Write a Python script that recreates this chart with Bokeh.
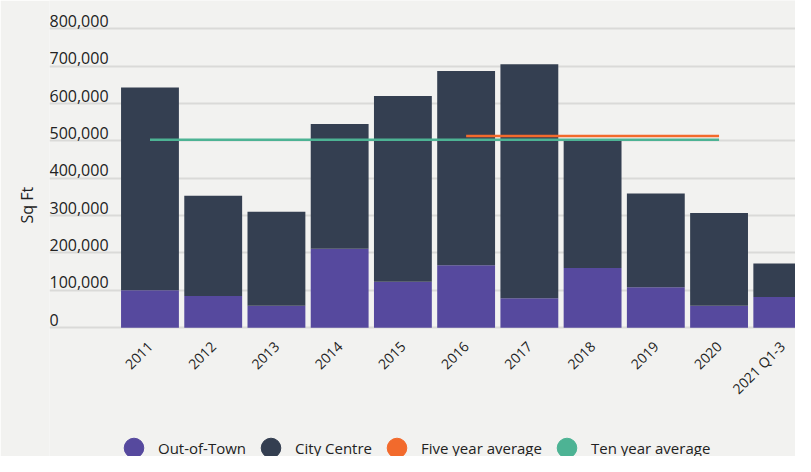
import numpy as np
from bokeh.plotting import figure
from bokeh.models import ColumnDataSource, FixedTicker, Range1d, Legend, LegendItem, Title
from bokeh.core.properties import value
from bokeh.embed import file_html
from bokeh.resources import INLINE

# ---- data ----
categories = ["2011", "2012", "2013", "2014", "2015", "2016", "2017", "2018", "2019", "2020", "2021 Q1-3"]
out_of_town = [100000, 85000, 59000, 211000, 123000, 167000, 79000, 160000, 108000, 59000, 82000]
city_centre = [543000, 268000, 251000, 334000, 497000, 520000, 626000, 342000, 251000, 248000, 90000]
ten_year_years = ["2011", "2012", "2013", "2014", "2015", "2016", "2017", "2018", "2019", "2020"]
ten_year_avg = [503000, 503000, 503000, 503000, 503000, 503000, 503000, 503000, 503000, 503000]
five_year_years = ["2016", "2017", "2018", "2019", "2020"]
five_year_avg = [513000, 513000, 513000, 513000, 513000]
y_ticks = [0, 100000, 200000, 300000, 400000, 500000, 600000, 700000, 800000]
y_tick_labels = ["0", "100,000", "200,000", "300,000", "400,000", "500,000", "600,000", "700,000", "800,000"]
series_names = ["Out-of-Town", "City Centre", "Five year average", "Ten year average"]
y_title = "Sq Ft"

# ---- styles ----
PURPLE = "#56499E"
NAVY = "#343F51"
ORANGE = "#F26A2C"
GREEN = "#4DB394"
BG = "#F2F2F0"
GRID = "#DADAD8"
TXT = "#222222"
FONT = "Open Sans"

xpos = list(range(len(categories)))
idx = {c: i for i, c in enumerate(categories)}

x_start, x_end = -1.589, 10.209
p = figure(width=795, height=456, output_backend="svg", toolbar_location=None,
           x_range=Range1d(x_start, x_end), y_range=Range1d(-344800, 875700),
           min_border_left=49, min_border_right=0, min_border_top=0, min_border_bottom=0,
           background_fill_color=BG, border_fill_color=BG, outline_line_color=None)

src = ColumnDataSource(dict(x=xpos, out=out_of_town, city=city_centre))
p.vbar_stack(["out", "city"], x="x", width=0.915, source=src,
             color=[PURPLE, NAVY], line_color=None)

p.line(x=[idx[c] for c in ten_year_years], y=ten_year_avg, line_color=GREEN, line_width=2.5)
p.line(x=[idx[c] for c in five_year_years], y=five_year_avg, line_color=ORANGE, line_width=2.5)

# y tick labels sit above their gridlines, left-aligned at the frame's left edge
p.text(x=[x_start] * len(y_ticks), y=y_ticks, text=y_tick_labels,
       text_font=value(FONT), text_font_size="16px", text_color=TXT,
       text_align="left", text_baseline="bottom", y_offset=-2)

# grid
p.xgrid.grid_line_color = None
p.ygrid.ticker = FixedTicker(ticks=y_ticks)
p.ygrid.grid_line_color = GRID
p.ygrid.grid_line_width = 2

# y axis title (placed as a left-side title so it can be shifted up)
p.yaxis.visible = False
p.add_layout(Title(text=y_title, align="left", offset=233, standoff=24,
                   text_font=FONT, text_font_size="16px", text_font_style="normal",
                   text_color=TXT), "left")

# x axis, drawn at y = 0
p.xaxis.fixed_location = 0
p.xaxis.ticker = FixedTicker(ticks=xpos)
p.xaxis.major_label_overrides = {i: c for i, c in enumerate(categories)}
p.xaxis.major_label_orientation = np.pi / 4
p.xaxis.major_label_text_font = FONT
p.xaxis.major_label_text_font_size = "14px"
p.xaxis.major_label_text_color = TXT
p.xaxis.major_label_standoff = 10
p.xaxis.major_tick_line_color = None
p.xaxis.minor_tick_line_color = None
p.xaxis.axis_line_color = None

# legend with circular markers (proxy renderers with a single non-drawn point)
nan = [float("nan")]
r_out = p.scatter(x=nan, y=nan, marker="circle", size=19.5, color=PURPLE)
r_city = p.scatter(x=nan, y=nan, marker="circle", size=19.5, color=NAVY)
r_five = p.scatter(x=nan, y=nan, marker="circle", size=19.5, color=ORANGE)
r_ten = p.scatter(x=nan, y=nan, marker="circle", size=19.5, color=GREEN)
legend = Legend(items=[LegendItem(label=series_names[0], renderers=[r_out]),
                       LegendItem(label=series_names[1], renderers=[r_city]),
                       LegendItem(label=series_names[2], renderers=[r_five]),
                       LegendItem(label=series_names[3], renderers=[r_ten])],
                orientation="horizontal", location=(60, -16),
                glyph_width=49, glyph_height=49, label_standoff=0, spacing=0,
                padding=0, margin=0, border_line_color=None, background_fill_alpha=0,
                label_text_font=FONT, label_text_font_size="15px", label_text_color=TXT)
p.add_layout(legend, "center")

open("out.html", "w").write(file_html(p, INLINE))
